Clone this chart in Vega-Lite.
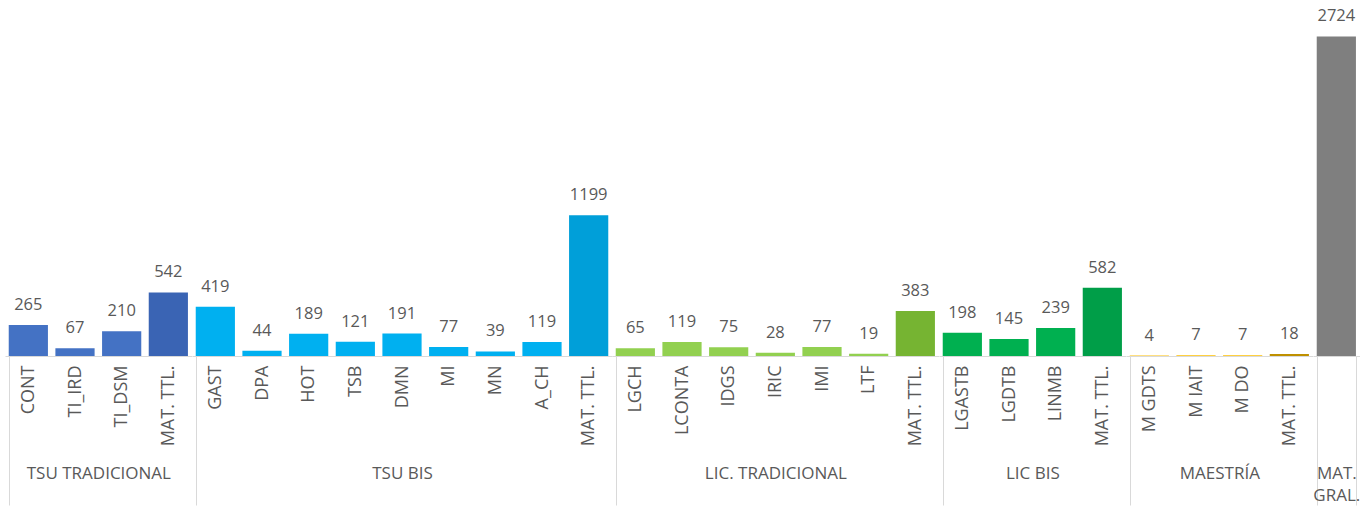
{
  "$schema": "https://vega.github.io/schema/vega-lite/v6.json",
  "padding": {"left": -4, "top": 4, "right": 0, "bottom": 0},
  "background": "white",
  "data": {"values": [
    {"grupo": "TSU TRADICIONAL", "programa": "CONT", "tipo": "programa", "valor": 265},
    {"grupo": "TSU TRADICIONAL", "programa": "TI_IRD", "tipo": "programa", "valor": 67},
    {"grupo": "TSU TRADICIONAL", "programa": "TI_DSM", "tipo": "programa", "valor": 210},
    {"grupo": "TSU TRADICIONAL", "programa": "MAT. TTL.", "tipo": "total", "valor": 542},
    {"grupo": "TSU BIS", "programa": "GAST", "tipo": "programa", "valor": 419},
    {"grupo": "TSU BIS", "programa": "DPA", "tipo": "programa", "valor": 44},
    {"grupo": "TSU BIS", "programa": "HOT", "tipo": "programa", "valor": 189},
    {"grupo": "TSU BIS", "programa": "TSB", "tipo": "programa", "valor": 121},
    {"grupo": "TSU BIS", "programa": "DMN", "tipo": "programa", "valor": 191},
    {"grupo": "TSU BIS", "programa": "MI", "tipo": "programa", "valor": 77},
    {"grupo": "TSU BIS", "programa": "MN", "tipo": "programa", "valor": 39},
    {"grupo": "TSU BIS", "programa": "A_CH", "tipo": "programa", "valor": 119},
    {"grupo": "TSU BIS", "programa": "MAT. TTL.", "tipo": "total", "valor": 1199},
    {"grupo": "LIC. TRADICIONAL", "programa": "LGCH", "tipo": "programa", "valor": 65},
    {"grupo": "LIC. TRADICIONAL", "programa": "LCONTA", "tipo": "programa", "valor": 119},
    {"grupo": "LIC. TRADICIONAL", "programa": "IDGS", "tipo": "programa", "valor": 75},
    {"grupo": "LIC. TRADICIONAL", "programa": "IRIC", "tipo": "programa", "valor": 28},
    {"grupo": "LIC. TRADICIONAL", "programa": "IMI", "tipo": "programa", "valor": 77},
    {"grupo": "LIC. TRADICIONAL", "programa": "LTF", "tipo": "programa", "valor": 19},
    {"grupo": "LIC. TRADICIONAL", "programa": "MAT. TTL.", "tipo": "total", "valor": 383},
    {"grupo": "LIC BIS", "programa": "LGASTB", "tipo": "programa", "valor": 198},
    {"grupo": "LIC BIS", "programa": "LGDTB", "tipo": "programa", "valor": 145},
    {"grupo": "LIC BIS", "programa": "LINMB", "tipo": "programa", "valor": 239},
    {"grupo": "LIC BIS", "programa": "MAT. TTL.", "tipo": "total", "valor": 582},
    {"grupo": "MAESTRÍA", "programa": "M GDTS", "tipo": "programa", "valor": 4},
    {"grupo": "MAESTRÍA", "programa": "M IAIT", "tipo": "programa", "valor": 7},
    {"grupo": "MAESTRÍA", "programa": "M DO", "tipo": "programa", "valor": 7},
    {"grupo": "MAESTRÍA", "programa": "MAT. TTL.", "tipo": "total", "valor": 18},
    {"grupo": "MAT. GRAL.", "programa": "MAT. GRAL.", "tipo": "total", "valor": 2724}
  ]},
  "spacing": 0,
  "bounds": "flush",
  "resolve": {"scale": {"color": "independent"}},
  "hconcat": [
    {
      "width": 186.67, "height": 352,
      "transform": [{"filter": {"field": "grupo", "equal": "TSU TRADICIONAL"}}],
      "encoding": {
        "x": {"field": "programa", "type": "nominal", "sort": null, "scale": {"paddingInner": 0.16, "paddingOuter": 0.08},
              "axis": {"title": "TSU TRADICIONAL", "tickColor": {"condition": {"test": "datum.extra", "value": "#D9D9D9"}, "value": "transparent"}}},
        "y": {"field": "valor", "type": "quantitative", "scale": {"domain": [0, 3000], "nice": false}, "axis": null}
      },
      "layer": [
        {"mark": {"type": "bar"}, "encoding": {"color": {"field": "tipo", "type": "nominal", "legend": null, "scale": {"domain": ["programa", "total"], "range": ["#4472C4", "#3A64B4"]}}}},
        {"mark": {"type": "text", "dy": -15, "baseline": "alphabetic", "font": "Open Sans", "fontSize": 16.5, "color": "#595959"}, "encoding": {"text": {"field": "valor", "type": "quantitative"}}}
      ]
    },
    {
      "width": 420, "height": 352,
      "transform": [{"filter": {"field": "grupo", "equal": "TSU BIS"}}],
      "encoding": {
        "x": {"field": "programa", "type": "nominal", "sort": null, "scale": {"paddingInner": 0.16, "paddingOuter": 0.08},
              "axis": {"title": "TSU BIS", "tickColor": {"condition": {"test": "datum.extra", "value": "#D9D9D9"}, "value": "transparent"}}},
        "y": {"field": "valor", "type": "quantitative", "scale": {"domain": [0, 3000], "nice": false}, "axis": null}
      },
      "layer": [
        {"mark": {"type": "bar"}, "encoding": {"color": {"field": "tipo", "type": "nominal", "legend": null, "scale": {"domain": ["programa", "total"], "range": ["#00B0F0", "#009FD9"]}}}},
        {"mark": {"type": "text", "dy": -15, "baseline": "alphabetic", "font": "Open Sans", "fontSize": 16.5, "color": "#595959"}, "encoding": {"text": {"field": "valor", "type": "quantitative"}}}
      ]
    },
    {
      "width": 326.67, "height": 352,
      "transform": [{"filter": {"field": "grupo", "equal": "LIC. TRADICIONAL"}}],
      "encoding": {
        "x": {"field": "programa", "type": "nominal", "sort": null, "scale": {"paddingInner": 0.16, "paddingOuter": 0.08},
              "axis": {"title": "LIC. TRADICIONAL", "tickColor": {"condition": {"test": "datum.extra", "value": "#D9D9D9"}, "value": "transparent"}}},
        "y": {"field": "valor", "type": "quantitative", "scale": {"domain": [0, 3000], "nice": false}, "axis": null}
      },
      "layer": [
        {"mark": {"type": "bar"}, "encoding": {"color": {"field": "tipo", "type": "nominal", "legend": null, "scale": {"domain": ["programa", "total"], "range": ["#92D050", "#76B432"]}}}},
        {"mark": {"type": "text", "dy": -15, "baseline": "alphabetic", "font": "Open Sans", "fontSize": 16.5, "color": "#595959"}, "encoding": {"text": {"field": "valor", "type": "quantitative"}}}
      ]
    },
    {
      "width": 186.67, "height": 352,
      "transform": [{"filter": {"field": "grupo", "equal": "LIC BIS"}}],
      "encoding": {
        "x": {"field": "programa", "type": "nominal", "sort": null, "scale": {"paddingInner": 0.16, "paddingOuter": 0.08},
              "axis": {"title": "LIC BIS", "tickColor": {"condition": {"test": "datum.extra", "value": "#D9D9D9"}, "value": "transparent"}}},
        "y": {"field": "valor", "type": "quantitative", "scale": {"domain": [0, 3000], "nice": false}, "axis": null}
      },
      "layer": [
        {"mark": {"type": "bar"}, "encoding": {"color": {"field": "tipo", "type": "nominal", "legend": null, "scale": {"domain": ["programa", "total"], "range": ["#00B050", "#009E48"]}}}},
        {"mark": {"type": "text", "dy": -15, "baseline": "alphabetic", "font": "Open Sans", "fontSize": 16.5, "color": "#595959"}, "encoding": {"text": {"field": "valor", "type": "quantitative"}}}
      ]
    },
    {
      "width": 186.67, "height": 352,
      "transform": [{"filter": {"field": "grupo", "equal": "MAESTRÍA"}}],
      "encoding": {
        "x": {"field": "programa", "type": "nominal", "sort": null, "scale": {"paddingInner": 0.16, "paddingOuter": 0.08},
              "axis": {"title": "MAESTRÍA", "tickColor": {"condition": {"test": "datum.extra", "value": "#D9D9D9"}, "value": "transparent"}}},
        "y": {"field": "valor", "type": "quantitative", "scale": {"domain": [0, 3000], "nice": false}, "axis": null}
      },
      "layer": [
        {"mark": {"type": "bar"}, "encoding": {"color": {"field": "tipo", "type": "nominal", "legend": null, "scale": {"domain": ["programa", "total"], "range": ["#FFC000", "#BF9000"]}}}},
        {"mark": {"type": "text", "dy": -15, "baseline": "alphabetic", "font": "Open Sans", "fontSize": 16.5, "color": "#595959"}, "encoding": {"text": {"field": "valor", "type": "quantitative"}}}
      ]
    },
    {
      "width": 46.67, "height": 352,
      "transform": [{"filter": {"field": "grupo", "equal": "MAT. GRAL."}}],
      "encoding": {
        "x": {"field": "programa", "type": "nominal", "sort": null, "scale": {"paddingInner": 0.16, "paddingOuter": 0.08},
              "axis": {"title": ["MAT.", "GRAL."], "labels": false, "tickColor": "#D9D9D9"}},
        "y": {"field": "valor", "type": "quantitative", "scale": {"domain": [0, 3000], "nice": false}, "axis": null}
      },
      "layer": [
        {"mark": {"type": "bar"}, "encoding": {"color": {"field": "tipo", "type": "nominal", "legend": null, "scale": {"domain": ["total"], "range": ["#7F7F7F"]}}}},
        {"mark": {"type": "text", "dy": -15, "baseline": "alphabetic", "font": "Open Sans", "fontSize": 16.5, "color": "#595959"}, "encoding": {"text": {"field": "valor", "type": "quantitative"}}}
      ]
    }
  ],
  "config": {
    "view": {"stroke": null},
    "axisX": {
      "grid": false,
      "domainColor": "#D9D9D9",
      "domainWidth": 1,
      "ticks": true,
      "tickBand": "extent",
      "tickSize": 149,
      "tickWidth": 1,
      "labelAngle": -90,
      "labelPadding": -140,
      "labelOverlap": false,
      "labelFont": "Open Sans",
      "labelFontSize": 18,
      "labelColor": "#595959",
      "titleFont": "Open Sans",
      "titleFontSize": 17,
      "titleFontWeight": "normal",
      "titleColor": "#595959",
      "titleBaseline": "top",
      "titleY": 109,
      "titleLineHeight": 22
    }
  }
}
